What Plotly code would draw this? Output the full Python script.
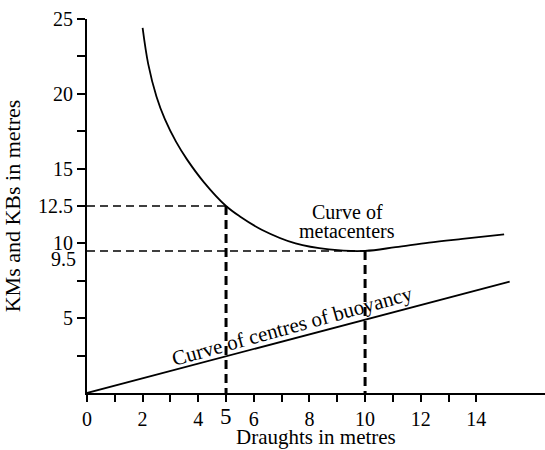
import plotly.graph_objects as go

# Curve of metacentres (KM)
draught_km = [2.0, 2.2, 2.5, 2.8, 3.2, 3.6, 4.2, 5.0, 5.5, 6.3, 7.5, 8.7, 10.0, 11.1, 12.3, 13.5, 15.0]
km_values = [24.4, 22.0, 19.8, 18.3, 16.8, 15.6, 14.1, 12.5, 11.8, 10.9, 10.0, 9.6, 9.5, 9.75, 10.05, 10.3, 10.6]

# Curve of centres of buoyancy (KB)
draught_kb = [0, 15.2]
kb_values = [0, 7.45]

# Reference readings (dashed guides)
ref_draughts = [5, 10]
ref_km = [12.5, 9.5]

# Axis ticks
x_tick_vals = list(range(0, 15))
x_tick_text = ["0", "", "2", "", "4", "", "6", "", "8", "", "10", "", "12", "", "14"]
y_tick_vals = [2.5, 5, 7.5, 10, 12.5, 15, 17.5, 20, 22.5, 25]
y_tick_text = ["", "5", "", "10", "12.5", "15", "", "20", "", "25"]

FONT = "Liberation Serif"

fig = go.Figure()

# Dashed guides
for xd, yk in zip(ref_draughts, ref_km):
    fig.add_trace(go.Scatter(x=[0, xd], y=[yk, yk], mode="lines",
                             line=dict(color="black", width=1.5, dash="8px,5px"),
                             hoverinfo="skip", showlegend=False))
    fig.add_trace(go.Scatter(x=[xd, xd], y=[yk, 0], mode="lines",
                             line=dict(color="black", width=3, dash="9px,5px"),
                             hoverinfo="skip", showlegend=False))

fig.add_trace(go.Scatter(x=draught_km, y=km_values, mode="lines",
                         line=dict(color="black", width=1.8, shape="spline", smoothing=1.0),
                         name="KM", showlegend=False))
fig.add_trace(go.Scatter(x=draught_kb, y=kb_values, mode="lines",
                         line=dict(color="black", width=1.8),
                         name="KB", showlegend=False))

ann_font = dict(family=FONT, size=20, color="black")
fig.add_annotation(x=9.35, y=12.1, text="Curve of", showarrow=False, font=ann_font)
fig.add_annotation(x=9.35, y=10.85, text="metacenters", showarrow=False, font=ann_font)
fig.add_annotation(x=7.38, y=4.45, text="Curve of centres of buoyancy", showarrow=False,
                   textangle=-15.5, font=dict(family=FONT, size=21, color="black"))
fig.add_annotation(x=ref_draughts[0], y=0, text=str(ref_draughts[0]), showarrow=False,
                   yanchor="top", yshift=-9, font=dict(family=FONT, size=23, color="black"))
fig.add_annotation(x=0, y=ref_km[1], text=str(ref_km[1]), showarrow=False,
                   xanchor="right", xshift=-9, yshift=-8, font=dict(family=FONT, size=20, color="black"))
# x-axis title placed as an annotation for exact vertical position
fig.add_annotation(xref="paper", yref="paper", x=0.5, y=0, yanchor="top", yshift=-30,
                   text="Draughts in metres", showarrow=False,
                   font=dict(family=FONT, size=21, color="black"))

fig.update_layout(
    width=545, height=450,
    margin=dict(l=87, r=0, t=19, b=57, autoexpand=False),
    paper_bgcolor="white", plot_bgcolor="white",
    font=dict(family=FONT, size=20, color="black"),
    xaxis=dict(range=[0, 16.47], tickmode="array", tickvals=x_tick_vals, ticktext=x_tick_text,
               automargin=False,
               showgrid=False, zeroline=False, showline=True, linecolor="black", linewidth=2,
               ticks="outside", ticklen=7, tickwidth=1.5, tickcolor="black",
               tickfont=dict(family=FONT, size=20, color="black")),
    yaxis=dict(range=[0, 25], tickmode="array", tickvals=y_tick_vals, ticktext=y_tick_text,
               automargin=False,
               showgrid=False, zeroline=False, showline=True, linecolor="black", linewidth=2,
               ticks="outside", ticklen=8, tickwidth=1.5, tickcolor="black",
               tickfont=dict(family=FONT, size=20, color="black"),
               title=dict(text="KMs and KBs in metres", font=dict(family=FONT, size=22, color="black"))),
)

fig.write_html("out.html", config={"displayModeBar": False},
               post_script="document.body.style.margin='0';document.body.style.padding='0';document.body.style.overflow='hidden';")
